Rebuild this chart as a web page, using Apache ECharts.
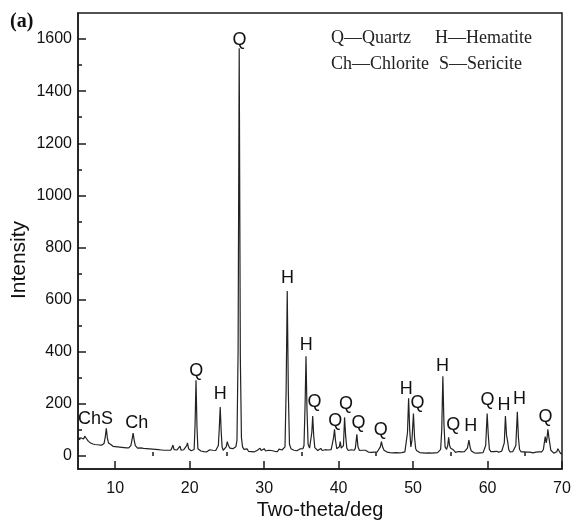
<!DOCTYPE html>
<html>
<head>
<meta charset="utf-8">
<script src="https://cdn.jsdelivr.net/npm/echarts@6/dist/echarts.min.js"></script>
<style>
  html, body { margin: 0; padding: 0; background: #fff; }
  #chart { width: 572px; height: 520px; }
</style>
</head>
<body>
<div id="chart"></div>
<script>
// XRD pattern, [two-theta, intensity]
var pattern = [
  [5.0,62],[5.1,72],[5.2,62],[5.35,70],[5.5,64],[5.6,74],[5.75,65],[5.9,76],[6.0,82],[6.1,68],
  [6.25,67],[6.4,56],[6.55,58],[6.7,50],[6.85,57],[7.0,46],[7.15,53],[7.3,44],[7.45,51],[7.6,43],
  [7.75,50],[7.9,42],[8.05,49],[8.2,42],[8.35,47],[8.5,48],[8.65,70],[8.8,106],[8.95,68],[9.1,50],
  [9.25,43],[9.4,44],[9.55,46],[9.7,37],[9.85,43],[10.0,36],[10.15,42],[10.3,35],[10.45,41],[10.6,34],
  [10.75,40],[10.9,33],[11.05,39],[11.2,32],[11.35,38],[11.5,31],[11.65,37],[11.8,31],[11.95,36],[12.1,40],
  [12.25,62],[12.4,88],[12.55,60],[12.7,40],[12.85,33],[13.0,30],[13.2,26],[13.4,31],[13.6,24],[13.8,29],
  [14.0,23],[14.2,28],[14.4,22],[14.6,27],[14.8,21],[15.0,26],[15.2,20],[15.4,25],[15.6,19],[15.8,24],
  [16.0,18],[16.2,23],[16.4,18],[16.6,22],[16.8,17],[17.0,22],[17.2,17],[17.45,22],[17.6,30],[17.75,42],
  [17.9,24],[18.1,19],[18.3,23],[18.5,25],[18.7,38],[18.85,22],[19.0,19],[19.2,24],[19.4,26],[19.6,40],
  [19.7,50],[19.85,28],[20.0,21],[20.2,20],[20.4,24],[20.6,25],[20.72,120],[20.85,291],[20.98,110],[21.1,28],
  [21.3,21],[21.5,19],[21.7,24],[21.9,17],[22.1,22],[22.3,16],[22.5,21],[22.7,24],[22.9,17],[23.1,22],
  [23.3,16],[23.5,21],[23.7,24],[23.85,40],[23.98,110],[24.1,188],[24.22,100],[24.35,35],[24.5,22],[24.7,25],
  [24.9,35],[25.05,55],[25.2,40],[25.4,30],[25.6,25],[25.8,28],[26.0,30],[26.2,35],[26.35,60],[26.5,400],
  [26.65,1565],[26.8,380],[26.95,70],[27.1,35],[27.3,25],[27.5,21],[27.7,27],[27.9,18],[28.1,23],[28.3,17],
  [28.5,22],[28.7,16],[28.9,21],[29.1,22],[29.3,27],[29.45,30],[29.6,21],[29.8,26],[30.0,28],[30.2,19],
  [30.4,17],[30.6,22],[30.8,16],[31.0,21],[31.2,25],[31.4,18],[31.6,23],[31.8,17],[32.0,26],[32.2,19],
  [32.4,23],[32.6,25],[32.8,35],[32.95,250],[33.1,633],[33.25,240],[33.4,45],[33.6,28],[33.8,23],[34.0,22],
  [34.2,26],[34.4,20],[34.6,25],[34.8,27],[35.0,32],[35.2,28],[35.35,40],[35.5,200],[35.62,383],[35.75,180],
  [35.9,45],[36.1,30],[36.3,35],[36.4,90],[36.52,153],[36.65,80],[36.8,32],[37.0,25],[37.2,21],[37.4,26],
  [37.6,29],[37.8,21],[38.0,19],[38.2,24],[38.4,18],[38.6,23],[38.8,19],[39.0,24],[39.2,30],[39.32,70],
  [39.45,102],[39.58,60],[39.75,28],[39.95,24],[40.1,35],[40.22,55],[40.35,30],[40.5,28],[40.65,40],[40.8,148],
  [40.95,75],[41.1,30],[41.3,21],[41.5,20],[41.7,24],[41.9,18],[42.1,22],[42.25,30],[42.45,83],[42.6,35],
  [42.8,21],[43.0,17],[43.2,22],[43.4,16],[43.6,22],[43.8,17],[44.0,15],[44.2,20],[44.4,14],[44.6,19],
  [44.8,15],[45.0,20],[45.2,16],[45.4,22],[45.6,35],[45.75,55],[45.9,35],[46.1,22],[46.3,16],[46.5,15],
  [46.7,19],[46.9,13],[47.1,18],[47.3,12],[47.5,17],[47.7,13],[47.9,18],[48.1,12],[48.3,17],[48.5,13],
  [48.7,18],[48.9,16],[49.1,22],[49.25,90],[49.4,221],[49.55,100],[49.7,35],[49.85,60],[50.05,163],[50.2,70],
  [50.35,28],[50.5,20],[50.7,17],[50.9,13],[51.1,18],[51.3,12],[51.5,17],[51.7,11],[51.9,16],[52.1,12],
  [52.3,17],[52.5,11],[52.7,16],[52.9,12],[53.1,17],[53.3,13],[53.5,18],[53.7,25],[53.85,100],[54.0,306],
  [54.15,120],[54.3,35],[54.5,25],[54.65,40],[54.78,72],[54.9,40],[55.05,30],[55.2,35],[55.35,25],[55.5,18],
  [55.7,14],[55.9,12],[56.1,17],[56.3,11],[56.5,16],[56.7,12],[56.9,17],[57.1,18],[57.3,30],[57.5,61],
  [57.65,35],[57.8,20],[58.0,16],[58.2,12],[58.4,16],[58.6,11],[58.8,16],[59.0,12],[59.2,17],[59.4,13],
  [59.6,18],[59.75,40],[59.95,163],[60.1,80],[60.25,25],[60.45,17],[60.65,13],[60.85,17],[61.05,13],[61.2,18],
  [61.35,22],[61.5,15],[61.7,13],[61.9,18],[62.1,20],[62.25,50],[62.4,153],[62.55,80],[62.7,55],[62.85,25],
  [63.0,16],[63.2,13],[63.4,17],[63.6,18],[63.8,40],[64.0,170],[64.15,70],[64.3,25],[64.5,16],[64.7,12],
  [64.9,16],[65.1,11],[65.3,15],[65.5,10],[65.7,15],[65.9,17],[66.1,12],[66.3,10],[66.5,15],[66.7,11],
  [66.9,16],[67.1,12],[67.3,16],[67.5,25],[67.65,55],[67.75,74],[67.88,50],[68.0,70],[68.1,102],[68.22,75],
  [68.35,50],[68.5,22],[68.7,15],[68.9,11],[69.1,15],[69.3,16],[69.45,28],[69.6,20],[69.8,10],[70.0,8]
];

// phase letters over the peaks: [two-theta, intensity, text]
var peakLabels = [
  [6.55,140,'Ch'],[8.9,140,'S'],[12.9,125,'Ch'],[20.88,327,'Q'],[24.1,237,'H'],
  [26.7,1598,'Q'],[33.13,684,'H'],[35.65,425,'H'],[36.76,208,'Q'],[39.54,135,'Q'],
  [41.0,199,'Q'],[42.66,128,'Q'],[45.67,100,'Q'],[49.07,255,'H'],[50.58,204,'Q'],
  [53.94,345,'H'],[55.4,119,'Q'],[57.75,115,'H'],[59.98,214,'Q'],[62.2,195,'H'],
  [64.3,217,'H'],[67.8,150,'Q']
];

var xMajor = [10, 20, 30, 40, 50, 60, 70];
var xMinor = [15, 25, 35, 45, 55, 65];
var yMajor = [0, 200, 400, 600, 800, 1000, 1200, 1400, 1600];
var yMinor = [100, 300, 500, 700, 900, 1100, 1300, 1500];

var legendLines = ['Q\u2014Quartz', 'H\u2014Hematite', 'Ch\u2014Chlorite', 'S\u2014Sericite'];

var myChart = echarts.init(document.getElementById('chart'));
var axisColor = '#1a1a1a';
var sans = '"Liberation Sans", Arial, sans-serif';
var serif = '"Liberation Serif", "Times New Roman", serif';

var option = {
  backgroundColor: '#fff',
  animation: false,
  grid: {
    left: 78, right: 10, top: 13, bottom: 51,
    outerBoundsMode: 'none',
    show: true, borderColor: axisColor, borderWidth: 1.5
  },
  xAxis: [
    {
      type: 'value', min: 5, max: 70,
      name: 'Two-theta/deg', nameLocation: 'middle', nameGap: 31, nameMoveOverlap: false,
      nameTextStyle: { fontFamily: sans, fontSize: 20, color: '#111' },
      axisLine: { onZero: false, lineStyle: { color: axisColor, width: 1.5 } },
      axisTick: { inside: true, length: 8, customValues: xMajor, lineStyle: { color: axisColor, width: 1.5 } },
      axisLabel: { customValues: xMajor, margin: 12, fontFamily: sans, fontSize: 16, color: '#111',
        formatter: function (v) { return String(v); } },
      splitLine: { show: false }
    },
    {
      type: 'value', min: 5, max: 70, position: 'bottom',
      axisLine: { show: false },
      axisTick: { inside: true, length: 4, customValues: xMinor, lineStyle: { color: axisColor, width: 1.5 } },
      axisLabel: { show: false },
      splitLine: { show: false }
    }
  ],
  yAxis: [
    {
      type: 'value', min: -50, max: 1700,
      name: 'Intensity', nameLocation: 'middle', nameGap: 48, nameMoveOverlap: false,
      nameTextStyle: { fontFamily: sans, fontSize: 21, color: '#111', padding: [0, 38, 0, 0] },
      axisLine: { show: true, onZero: false, lineStyle: { color: axisColor, width: 1.5 } },
      axisTick: { show: true, inside: true, length: 8, customValues: yMajor, lineStyle: { color: axisColor, width: 1.5 } },
      axisLabel: { customValues: yMajor, margin: 6, fontFamily: sans, fontSize: 16, color: '#111',
        formatter: function (v) { return String(v); } },
      splitLine: { show: false }
    },
    {
      type: 'value', min: -50, max: 1700, position: 'left',
      axisLine: { show: false },
      axisTick: { show: true, inside: true, length: 4, customValues: yMinor, lineStyle: { color: axisColor, width: 1.5 } },
      axisLabel: { show: false },
      splitLine: { show: false }
    }
  ],
  series: [
    {
      name: 'XRD',
      type: 'line',
      data: pattern,
      showSymbol: false,
      symbol: 'none',
      lineStyle: { color: '#222', width: 1.2 },
      z: 3
    },
    {
      name: 'phases',
      type: 'scatter',
      symbolSize: 0,
      data: peakLabels,
      itemStyle: { opacity: 1 },
      label: {
        show: true, position: 'inside',
        formatter: function (p) { return p.value[2]; },
        fontFamily: sans, fontSize: 18, color: '#111'
      },
      z: 4
    }
  ],
  graphic: [
    { type: 'text', left: 10, top: 12, style: { text: '(a)', font: 'bold 20px ' + serif, fill: '#111' } },
    { type: 'text', left: 331, top: 29, style: { text: legendLines[0], font: '18px ' + serif, fill: '#222' } },
    { type: 'text', left: 435, top: 29, style: { text: legendLines[1], font: '18px ' + serif, fill: '#222' } },
    { type: 'text', left: 331, top: 55, style: { text: legendLines[2], font: '18px ' + serif, fill: '#222' } },
    { type: 'text', left: 439, top: 55, style: { text: legendLines[3], font: '18px ' + serif, fill: '#222' } }
  ]
};

myChart.setOption(option);
</script>
</body>
</html>
